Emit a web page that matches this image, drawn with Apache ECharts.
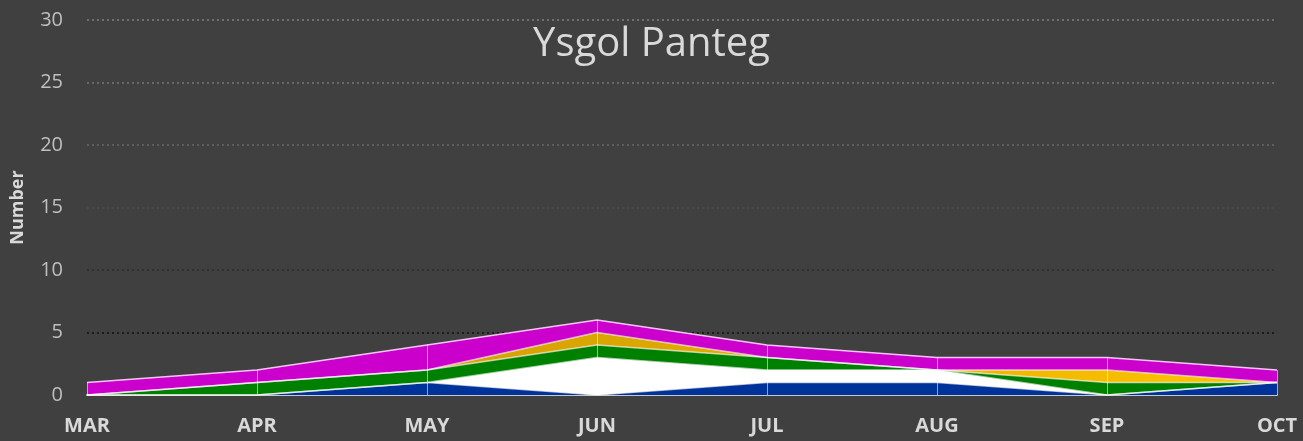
<!DOCTYPE html>
<html>
<head>
<meta charset="utf-8">
<script src="https://cdn.jsdelivr.net/npm/echarts@6/dist/echarts.min.js"></script>
<style>
html,body{margin:0;padding:0;background:#404040;}
#chart{width:1303px;height:441px;}
</style>
</head>
<body>
<div id="chart"></div>
<script>
const categories = ['MAR','APR','MAY','JUN','JUL','AUG','SEP','OCT'];
const blueValues    = [0, 0, 1, 0, 1, 1, 0, 1];
const whiteValues   = [0, 0, 0, 3, 1, 1, 0, 0];
const greenValues   = [0, 1, 1, 1, 1, 0, 1, 0];
const orangeValues  = [0, 0, 0, 1, 0, 0, 1, 0];
const magentaValues = [1, 1, 2, 1, 1, 1, 1, 1];
const yTicks = [0, 5, 10, 15, 20, 25, 30];

const totals = categories.map((c, i) =>
  blueValues[i] + whiteValues[i] + greenValues[i] + orangeValues[i] + magentaValues[i]);

const font = '"Open Sans", "Liberation Sans", sans-serif';
const edge = { color: 'rgba(255,255,255,0.65)', width: 1.5 };

function areaSeries(name, data, color) {
  return {
    name: name, type: 'line', stack: 'total', data: data,
    symbol: 'none', smooth: false,
    lineStyle: edge,
    areaStyle: { color: color, opacity: 1 },
    itemStyle: { color: color },
    emphasis: { disabled: true }
  };
}

const chart = echarts.init(document.getElementById('chart'));
const magenta = areaSeries('Magenta', magentaValues, '#cc00cc');
magenta.lineStyle = { color: 'rgba(255,215,255,0.9)', width: 1.5 };
magenta.markLine = {
  silent: true, symbol: 'none', label: { show: false },
  lineStyle: { color: 'rgba(255,255,255,0.55)', width: 1, type: 'solid' },
  data: categories.map((c, i) => [{ coord: [c, 0] }, { coord: [c, totals[i]] }])
};

chart.setOption({
  backgroundColor: '#404040',
  animation: false,
  title: {
    text: 'Ysgol Panteg', left: 'center', top: 20,
    textStyle: { color: '#d9d9d9', fontSize: 40, fontWeight: 'normal', fontFamily: font }
  },
  grid: { left: 87, right: 26, top: 20, bottom: 46, outerBoundsMode: 'none', containLabel: false },
  xAxis: {
    type: 'category', data: categories, boundaryGap: false,
    axisLine: { show: true, lineStyle: { color: '#c8c8c8', width: 2 } },
    axisTick: { show: false },
    axisLabel: { color: '#d9d9d9', fontSize: 20, fontWeight: 'bold', fontFamily: font, margin: 21 },
    splitLine: { show: false }
  },
  yAxis: {
    type: 'value', min: yTicks[0], max: yTicks[yTicks.length - 1], interval: 5,
    name: 'Number', nameLocation: 'middle', nameGap: 60, nameRotate: 90,
    nameTextStyle: { color: '#d9d9d9', fontSize: 18, fontWeight: 'bold', fontFamily: font },
    axisLine: { show: false }, axisTick: { show: false },
    axisLabel: { color: '#bfbfbf', fontSize: 20, fontFamily: font, margin: 24 },
    splitLine: { show: true, lineStyle: {
      type: [2, 3], width: 2,
      color: ['#404040', '#1c1c1c', '#303030', '#4a4a4a', '#5e5e5e', '#686868', '#707070']
    } }
  },
  series: [
    areaSeries('Blue', blueValues, '#003399'),
    areaSeries('White', whiteValues, '#ffffff'),
    areaSeries('Green', greenValues, '#008000'),
    areaSeries('Orange', orangeValues, {
      type: 'linear', x: 0, y: 0, x2: 1, y2: 0,
      colorStops: [{ offset: 0, color: '#c89a10' }, { offset: 0.45, color: '#daa600' }, { offset: 1, color: '#ffc400' }]
    }),
    magenta
  ]
});
</script>
</body>
</html>
